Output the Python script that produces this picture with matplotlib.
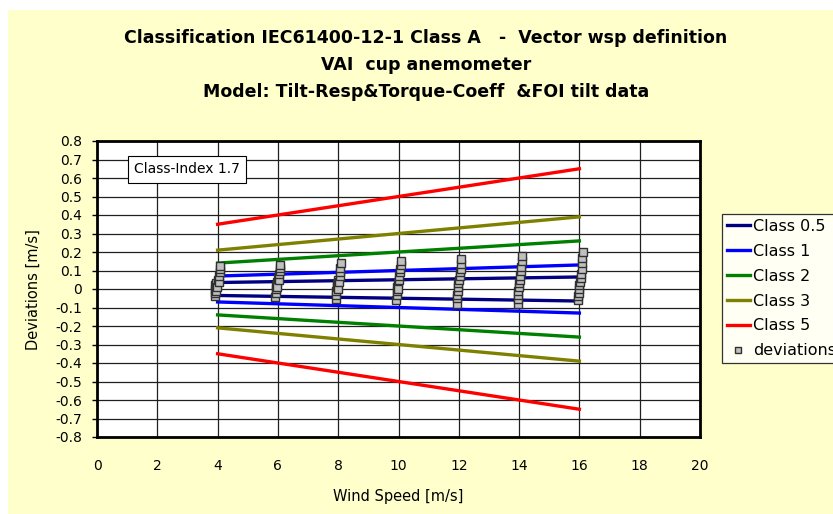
import matplotlib
matplotlib.use("Agg")
import matplotlib.pyplot as plt
from matplotlib.patches import Rectangle

plt.rcParams['font.family'] = ['DejaVu Sans']

# class limit lines, wind speed bins 4..16 m/s
wsp = [4, 6, 8, 10, 12, 14, 16]
class_05 = [0.035, 0.040, 0.045, 0.050, 0.055, 0.060, 0.065]
class_1 = [0.07, 0.08, 0.09, 0.10, 0.11, 0.12, 0.13]
class_2 = [0.14, 0.16, 0.18, 0.20, 0.22, 0.24, 0.26]
class_3 = [0.21, 0.24, 0.27, 0.30, 0.33, 0.36, 0.39]
class_5 = [0.35, 0.40, 0.45, 0.50, 0.55, 0.60, 0.65]

classes = [("Class 0.5", class_05, "#000080"),
           ("Class 1", class_1, "#0000FF"),
           ("Class 2", class_2, "#008000"),
           ("Class 3", class_3, "#808000"),
           ("Class 5", class_5, "#FF0000")]

# deviations per bin (wind speed, deviation)
dev_x = [3.90, 3.91, 3.92, 3.93, 3.94, 3.96, 3.98, 4.00, 4.04, 4.06, 4.07, 4.08, 4.09,
         5.92, 5.93, 5.94, 5.95, 5.96, 5.98, 6.00, 6.02, 6.04, 6.06, 6.07, 6.08,
         7.92, 7.93, 7.94, 7.95, 7.97, 7.99, 8.00, 8.02, 8.05, 8.06, 8.07, 8.08,
         9.93, 9.94, 9.95, 9.96, 9.97, 9.99, 10.01, 10.03, 10.05, 10.06, 10.07, 10.08,
         11.93, 11.94, 11.95, 11.96, 11.97, 11.99, 12.01, 12.03, 12.05, 12.06, 12.07, 12.08,
         13.95, 13.96, 13.97, 13.98, 13.99, 14.00, 14.02, 14.04, 14.06, 14.07, 14.08, 14.09,
         15.96, 15.97, 15.98, 15.99, 16.00, 16.02, 16.04, 16.06, 16.08, 16.09, 16.10, 16.11]
dev_y = [-0.04, -0.02, 0.00, 0.02, -0.01, 0.03, 0.01, 0.05, 0.04, 0.07, 0.09, 0.11, 0.125,
         -0.045, -0.02, 0.00, 0.02, 0.04, 0.01, 0.06, 0.05, 0.08, 0.10, 0.115, 0.13,
         -0.055, -0.03, -0.01, 0.01, 0.03, 0.00, 0.05, 0.04, 0.07, 0.09, 0.115, 0.14,
         -0.06, -0.035, -0.01, 0.01, 0.03, 0.00, 0.05, 0.07, 0.09, 0.11, 0.13, 0.15,
         -0.08, -0.05, -0.03, -0.01, 0.01, 0.03, 0.05, 0.07, 0.09, 0.11, 0.135, 0.16,
         -0.08, -0.055, -0.03, -0.01, 0.01, 0.03, 0.05, 0.07, 0.10, 0.12, 0.15, 0.18,
         -0.06, -0.04, -0.02, 0.00, 0.02, 0.04, 0.06, 0.08, 0.11, 0.14, 0.17, 0.20]

xticks = [0, 2, 4, 6, 8, 10, 12, 14, 16, 18, 20]
yticks = [0.8, 0.7, 0.6, 0.5, 0.4, 0.3, 0.2, 0.1, 0, -0.1, -0.2, -0.3, -0.4,
          -0.5, -0.6, -0.7, -0.8]
ytick_labels = ["0.8", "0.7", "0.6", "0.5", "0.4", "0.3", "0.2", "0.1", "0",
                "-0.1", "-0.2", "-0.3", "-0.4", "-0.5", "-0.6", "-0.7", "-0.8"]

title_lines = ["Classification IEC61400-12-1 Class A   -  Vector wsp definition",
               "VAI  cup anemometer",
               "Model: Tilt-Resp&Torque-Coeff  &FOI tilt data"]

W, H = 833, 514
fig = plt.figure(figsize=(W / 100, H / 100), dpi=100, facecolor="white")
fig.patches.append(Rectangle((8 / W, 0), 1, 1 - 10 / H, transform=fig.transFigure,
                             facecolor="#FFFFCC", edgecolor="none", zorder=-10))

ax = fig.add_axes([97 / W, 1 - 437 / H, 603 / W, 296 / H])
ax.set_facecolor("white")

handles = []
for name, vals, col in classes:
    h, = ax.plot(wsp, vals, color=col, lw=2.4, label=name, zorder=3)
    ax.plot(wsp, [-v for v in vals], color=col, lw=2.4, zorder=3)
    handles.append(h)
hd, = ax.plot(dev_x, dev_y, ls="none", marker="s", ms=5.8, mfc="#C0C0C0",
              mec="#303030", mew=1.0, label="deviations", zorder=4)
handles.append(hd)

ax.set_xlim(0, 20)
ax.set_ylim(-0.8, 0.8)
ax.set_xticks(xticks)
ax.set_yticks(yticks)
ax.set_yticklabels(ytick_labels)
ax.grid(True, color="#202020", lw=0.9)
ax.set_axisbelow(True)
for s in ax.spines.values():
    s.set_linewidth(2)
    s.set_color("black")
ax.tick_params(axis="x", length=0, pad=16, labelsize=10)
ax.tick_params(axis="y", length=3.6, width=1, pad=7, labelsize=10)

fig.text(398 / W, 1 - 496 / H, "Wind Speed [m/s]", fontsize=10.5,
         ha="center", va="center")
fig.text(33 / W, 1 - 290 / H, "Deviations [m/s]", fontsize=10.5,
         ha="center", va="center", rotation=90)

ax.text(2.985, 0.646, "Class-Index 1.7", fontsize=10, va="center", ha="center",
        bbox=dict(boxstyle="square,pad=0.45", facecolor="white", edgecolor="black", lw=0.8))

for line, base in zip(title_lines, [43, 70, 97]):
    fig.text(426 / W, 1 - base / H, line, ha="center", va="baseline",
             fontsize=12.5, fontweight="bold")

leg = fig.legend(handles=handles, loc="upper left",
                 bbox_to_anchor=(722 / W, 1 - 214 / H), fontsize=11.5,
                 frameon=True, fancybox=False, handlelength=1.45, handletextpad=0.2,
                 labelspacing=0.62, borderpad=0.3, borderaxespad=0, markerscale=0.8)
leg.get_frame().set_edgecolor("black")
leg.get_frame().set_linewidth(0.9)

fig.savefig("out.png", dpi=100, facecolor=fig.get_facecolor())
